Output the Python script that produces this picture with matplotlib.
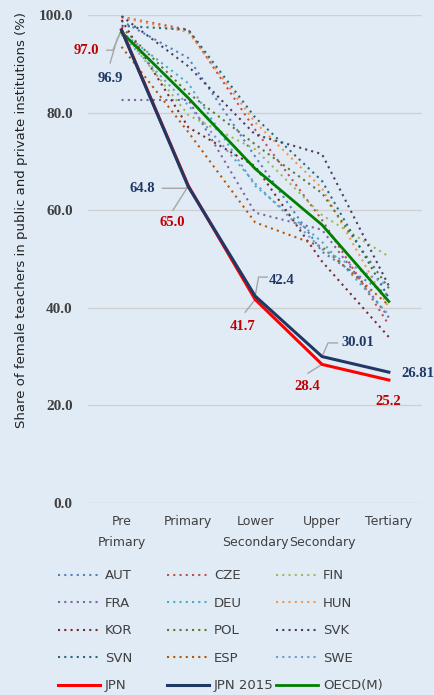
import matplotlib
matplotlib.use("Agg")
import matplotlib.pyplot as plt
import numpy as np


LEVELS = ["Pre\nPrimary", "Primary", "Lower\nSecondary", "Upper\nSecondary", "Tertiary"]

# female teacher share by level, %
AUT = [98.8, 91.2, 71.0, 51.5, 42.5]
CZE = [99.6, 97.0, 76.5, 58.0, 36.5]
FIN = [96.8, 79.5, 72.5, 59.0, 50.5]
FRA = [82.6, 82.6, 59.5, 56.0, 38.0]
DEU = [96.5, 86.0, 65.0, 53.5, 38.5]
HUN = [99.5, 96.5, 78.0, 64.5, 40.0]
KOR = [99.0, 77.0, 69.0, 49.5, 34.0]
POL = [97.5, 84.0, 73.5, 63.5, 44.0]
SVK = [99.8, 89.5, 75.5, 71.5, 44.5]
SVN = [97.8, 97.0, 79.0, 66.0, 42.0]
ESP = [93.5, 76.0, 57.5, 52.5, 40.5]
SWE = [96.0, 81.5, 65.5, 52.0, 44.5]
JPN = [97.0, 65.0, 41.7, 28.4, 25.2]
JPN_2015 = [96.9, 64.8, 42.4, 30.01, 26.81]
OECD_M = [96.5, 83.0, 68.5, 57.0, 41.3]

COUNTRIES = [
    ("AUT", AUT, "#4F81BD"),
    ("CZE", CZE, "#C0504D"),
    ("FIN", FIN, "#9BBB59"),
    ("FRA", FRA, "#8064A2"),
    ("DEU", DEU, "#4BACC6"),
    ("HUN", HUN, "#F79646"),
    ("KOR", KOR, "#772C2A"),
    ("POL", POL, "#5F7530"),
    ("SVK", SVK, "#4D3B62"),
    ("SVN", SVN, "#276A7C"),
    ("ESP", ESP, "#B65708"),
    ("SWE", SWE, "#729ACA"),
]

BG = "#E1EBF6"
RED = "#FF0000"
NAVY = "#1F3864"
GREEN = "#008000"
LABEL_FONT = ["Liberation Serif", "DejaVu Serif"]

fig = plt.figure(figsize=(4.34, 6.95), dpi=100, facecolor=BG)
ax = fig.add_axes([0.203, 0.2763, 0.770, 0.702], facecolor=BG)

x = np.arange(len(LEVELS))
handles = {}
for name, values, color in COUNTRIES:
    (ln,) = ax.plot(x, values, color=color, lw=1.5, ls=(0, (1, 2)), zorder=2)
    handles[name] = ln

handles["JPN"], = ax.plot(x, JPN, color=RED, lw=2.2, zorder=4)
handles["JPN 2015"], = ax.plot(x, JPN_2015, color=NAVY, lw=2.2, zorder=5)
handles["OECD(M)"], = ax.plot(x, OECD_M, color=GREEN, lw=2.0, zorder=3)

ax.set_xlim(-0.5, len(LEVELS) - 0.5)
ax.set_ylim(0, 100)
ax.set_yticks(np.arange(0, 101, 20))
ax.set_yticklabels([f"{v:.1f}" for v in np.arange(0, 101, 20)],
                   family=LABEL_FONT, fontweight="bold", fontsize=11, color="#404040")
ax.set_xticks(x)
ax.set_xticklabels(LEVELS, fontsize=9, color="#404040", linespacing=1.8)
ax.tick_params(axis="y", length=0, pad=11)
ax.tick_params(axis="x", length=0, pad=9)
ax.grid(axis="y", color="#D0D0D0", lw=1)
ax.set_axisbelow(True)
for spine in ax.spines.values():
    spine.set_visible(False)

fig.text(0.05, 0.683, "Share of female teachers in public and private institutions (%)",
         rotation=90, ha="center", va="center", fontsize=9.5, color="#222222")

# value labels with grey leader lines
leader = dict(color="#A6A6A6", lw=1)


def tag(text, xi, value, tx, ty, color, elbow=None):
    ax.text(tx, ty, text, color=color, fontsize=10.5, fontweight="bold",
            family=LABEL_FONT, ha="center", va="center", zorder=6)
    if elbow is not None:
        px = [p[0] for p in elbow] + [xi]
        py = [p[1] for p in elbow] + [value]
        ax.plot(px, py, zorder=1, **leader)


tag("97.0", 0, JPN[0], -0.53, 92.8, "#C00000", elbow=((-0.22, 92.8), (-0.13, 92.8)))
tag("96.9", 0, JPN_2015[0], -0.17, 86.9, NAVY, elbow=((-0.17, 90.2), (-0.07, 94.9)))
tag("64.8", 1, JPN_2015[1], 0.31, 64.5, NAVY, elbow=((0.61, 64.5), (0.95, 64.5)))
tag("65.0", 1, JPN[1], 0.76, 57.4, "#C00000", elbow=((0.77, 60.0),))
tag("42.4", 2, JPN_2015[2], 2.4, 45.7, NAVY, elbow=((2.18, 46.3), (2.05, 46.3)))
tag("41.7", 2, JPN[2], 1.81, 36.1, "#C00000", elbow=((1.85, 39.1),))
tag("30.01", 3, JPN_2015[3], 3.53, 32.8, NAVY, elbow=((3.23, 32.8), (3.09, 32.8)))
tag("28.4", 3, JPN[3], 2.78, 23.8, "#C00000", elbow=((2.79, 26.6),))
tag("26.81", 4, JPN_2015[4], 4.43, 26.6, NAVY)
tag("25.2", 4, JPN[4], 3.99, 20.7, "#C00000")

# one legend per column so each column sits at its own x
columns = [
    (["AUT", "FRA", "KOR", "SVN", "JPN"], 58),
    (["CZE", "DEU", "POL", "ESP", "JPN 2015"], 167),
    (["FIN", "HUN", "SVK", "SWE", "OECD(M)"], 276),
]
for names, left_px in columns:
    fig.legend([handles[k] for k in names], names, loc="upper left",
               bbox_to_anchor=(left_px / 434, 0.181), frameon=False, fontsize=9.5,
               borderpad=0, borderaxespad=0, handlelength=3.2, handletextpad=0.35,
               labelspacing=1.1, labelcolor="#404040")

fig.savefig("out.png", dpi=100, facecolor=BG)
